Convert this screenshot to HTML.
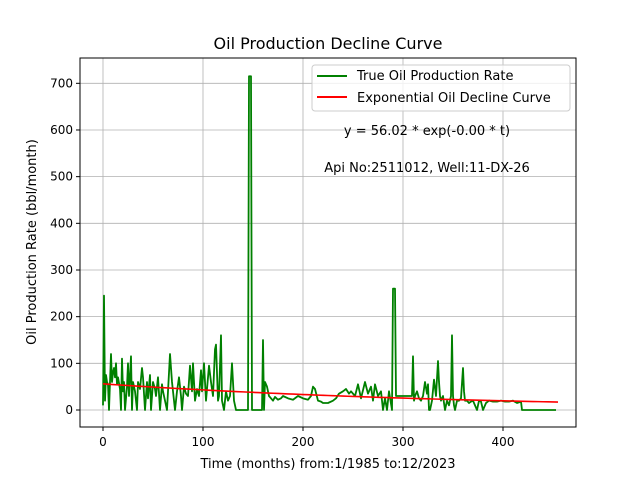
<!DOCTYPE html>
<html><head><meta charset="utf-8"><style>
html,body{margin:0;padding:0;background:#fff;}
svg{display:block;font-family:"DejaVu Sans","Liberation Sans",sans-serif;}
</style></head><body>
<svg id="chart" width="640" height="480">
<rect x="0" y="0" width="640" height="480" fill="#fff"/>
<text x="328" y="49" font-size="16" text-anchor="middle">Oil Production Decline Curve</text>
<g id="grid"></g>
<g id="ticks"></g>
<g id="series"></g>
<rect x="80" y="58" width="496" height="369" fill="none" stroke="#000" stroke-width="1"/>
<text x="328" y="468" font-size="13" text-anchor="middle">Time (months) from:1/1985 to:12/2023</text>
<text transform="translate(36,242) rotate(-90)" font-size="13" text-anchor="middle">Oil Production Rate (bbl/month)</text>
<g>
<rect x="312" y="65" width="258" height="46" rx="3" fill="#fff" fill-opacity="0.8" stroke="#ccc"/>
<line x1="317" y1="76" x2="347" y2="76" stroke="green" stroke-width="2"/>
<text x="357" y="80" font-size="13">True Oil Production Rate</text>
<line x1="317" y1="97" x2="347" y2="97" stroke="red" stroke-width="2"/>
<text x="357" y="102" font-size="13">Exponential Oil Decline Curve</text>
</g>
<text x="427" y="135" font-size="13" text-anchor="middle">y = 56.02 * exp(-0.00 * t)</text>
<text x="427" y="172" font-size="13" text-anchor="middle">Api No:2511012, Well:11-DX-26</text>
</svg>
<script>
const months=[0,1,2,3,4,5,6,7,8,9,10,11,12,13,14,15,
17,18,19,20,21,22,24,25,26,28,
29,30,32,34,35,37,39,40,42,44,
45,47,48,50,52,53,55,57,59,60,
62,64,66,67,69,70,72,74,76,78,
79,81,83,85,87,89,90,92,94,96,
98,99,101,103,104,106,108,110,112,113,
115,116,118,119,121,123,125,127,129,131,
133,145,146,148,149,150,152,156,159,160,
161,162,164,166,168,170,172,175,178,180,
185,190,195,200,205,208,210,212,215,218,
220,225,230,233,236,240,243,246,248,252,
255,258,262,265,268,270,272,275,278,280,
282,284,286,289,290,292,293,296,300,305,
309,310,311,312,314,316,318,320,322,324,
325,326,327,329,331,333,335,336,337,338,
340,342,344,346,348,349,350,351,352,354,
356,358,360,361,362,364,366,368,370,372,
374,376,378,380,383,386,390,394,398,402,
406,410,414,418,419,421,430,440,453];
const rates=[10,245,20,75,60,55,0,60,120,60,80,90,70,100,55,70,
45,0,110,40,60,0,50,100,30,115,
0,60,40,0,60,45,90,70,0,60,
25,75,0,60,45,30,70,0,55,40,
20,0,80,120,60,40,0,40,70,30,
0,50,35,30,95,40,100,20,45,30,
85,40,100,20,45,95,60,30,130,140,
20,30,160,20,0,40,20,30,100,20,
0,0,715,715,0,0,0,0,0,150,
0,60,50,30,25,20,28,22,25,30,
25,22,30,25,22,30,50,45,20,18,
15,15,20,25,35,40,45,35,40,30,
55,25,60,35,50,20,55,30,40,0,
25,0,40,0,260,260,30,30,30,30,
30,115,20,30,40,25,20,30,60,35,
55,0,0,20,65,30,105,60,30,20,
30,0,20,10,30,160,30,10,0,20,
20,25,90,40,20,20,15,18,20,10,
0,20,18,0,15,20,18,18,20,18,
18,20,15,18,0,0,0,0,0];
const expA=56.02, expK=0.00262, expT0=0, expT1=455;
const xTicks=[0,100,200,300,400];
const yTicks=[0,100,200,300,400,500,600,700];
const X=t=>103+t*1.0;
const Y=v=>410-v*0.4667;
const ns="http://www.w3.org/2000/svg";
function mk(tag,attrs,parent){const e=document.createElementNS(ns,tag);for(const k in attrs)e.setAttribute(k,attrs[k]);parent.appendChild(e);return e;}
const grid=document.getElementById('grid'),ticks=document.getElementById('ticks'),series=document.getElementById('series');
xTicks.forEach(t=>{
 const g=mk('line',{x1:X(t),x2:X(t),y1:58,y2:427,stroke:'#b0b0b0','stroke-width':0.8},grid);
 
 
 mk('line',{x1:X(t),x2:X(t),y1:427,y2:431,stroke:'#000'},ticks);
 const l=mk('text',{x:X(t),y:446,'font-size':12,'text-anchor':'middle'},ticks);
 l.textContent=t;
 
 
});
yTicks.forEach(v=>{
 const g=mk('line',{x1:80,x2:576,y1:Y(v),y2:Y(v),stroke:'#b0b0b0','stroke-width':0.8},grid);
 
 
 mk('line',{x1:76,x2:80,y1:Y(v),y2:Y(v),stroke:'#000'},ticks);
 const l=mk('text',{x:73,y:Y(v)+4,'font-size':12,'text-anchor':'end'},ticks);
 l.textContent=v;
 
 
});
const n=Math.min(months.length,rates.length);
const pts=[];for(let i=0;i<n;i++)pts.push(X(months[i])+','+Y(rates[i]));
const gl=mk('polyline',{points:pts.join(' '),fill:'none',stroke:'green','stroke-width':1.8,'stroke-linejoin':'round'},series);


const ep=[];for(let t=expT0;t<=expT1;t+=5)ep.push(X(t)+','+Y(expA*Math.exp(-expK*t)));
const rl=mk('polyline',{points:ep.join(' '),fill:'none',stroke:'red','stroke-width':1.6},series);


</script>
</body></html>
